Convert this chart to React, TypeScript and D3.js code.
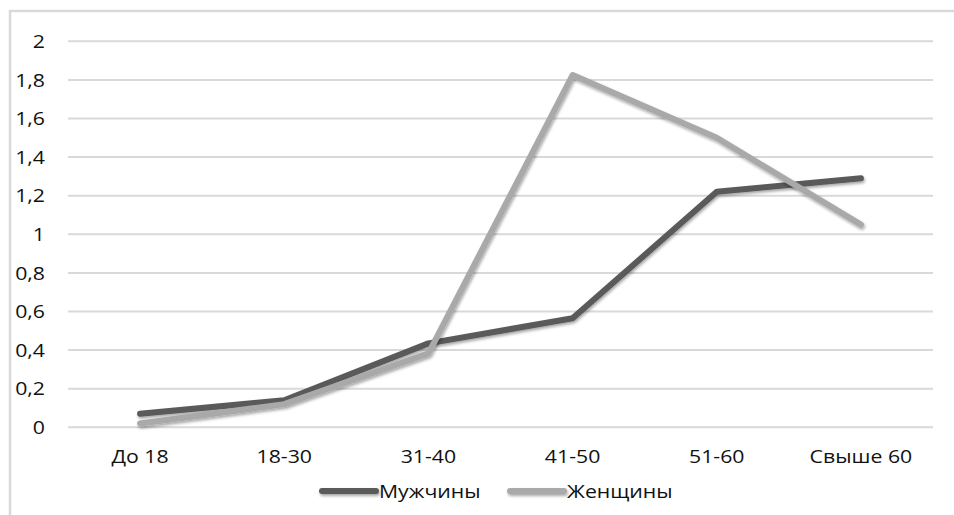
import React from "react";
import * as d3 from "d3";

const categories = ["До 18", "18-30", "31-40", "41-50", "51-60", "Свыше 60"];
const men = [0.07, 0.14, 0.435, 0.565, 1.22, 1.29];
const women = [0.02, 0.12, 0.383, 1.825, 1.5, 1.05];
const yTicks = [0, 0.2, 0.4, 0.6, 0.8, 1, 1.2, 1.4, 1.6, 1.8, 2];
const seriesNames = ["Мужчины", "Женщины"];
const seriesColors = ["#5a5a5a", "#a9a9a9"];

const W = 954;
const H = 515;
const left = 68;
const right = 933;
const top = 41.3;
const bottom = 427.3;
const FONT = "'Open Sans', 'Noto Sans', sans-serif";
const FS = 18.5;
const SX = 1.15;

function T({ x, y, anchor, children }: { x: number; y: number; anchor: string; children: React.ReactNode }) {
  return (
    <text
      transform={`translate(${x},${y}) scale(${SX},1)`}
      dy="0.36em"
      textAnchor={anchor}
      fontFamily={FONT}
      fontSize={FS}
      fill="#111"
    >
      {children}
    </text>
  );
}

export default function App() {
  const x = d3.scalePoint<string>().domain(categories).range([left, right]).padding(0.5);
  const y = d3.scaleLinear().domain([0, 2]).range([bottom, top]);
  const line = d3
    .line<number>()
    .x((_, i) => x(categories[i]) as number)
    .y((d) => y(d));
  const fmt = (v: number) => String(Math.round(v * 10) / 10).replace(".", ",");
  const series = [men, women];

  return (
    <svg width={W} height={H} style={{ position: "absolute", left: 0, top: 0, background: "#fff" }}>
      <defs>
        <filter id="sh" filterUnits="userSpaceOnUse" x={0} y={0} width={W} height={H}>
          <feDropShadow dx="1" dy="2" stdDeviation="1.8" floodColor="#000" floodOpacity="0.35" />
        </filter>
      </defs>
      <rect x={0} y={0} width={W} height={H} fill="#fff" />
      <path d={`M10,${H + 2}V11H${W + 2}`} fill="none" stroke="#d9d9d9" strokeWidth={2.5} />
      {yTicks.map((t) => (
        <g key={t}>
          <line x1={left} x2={right} y1={y(t)} y2={y(t)} stroke="#d9d9d9" strokeWidth={2} />
          <T x={45} y={y(t)} anchor="end">
            {fmt(t)}
          </T>
        </g>
      ))}
      {categories.map((c) => (
        <T key={c} x={x(c) as number} y={456} anchor="middle">
          {c}
        </T>
      ))}
      {series.map((s, i) => (
        <path
          key={i}
          d={line(s) || ""}
          fill="none"
          stroke={seriesColors[i]}
          strokeWidth={6}
          strokeLinecap="round"
          strokeLinejoin="round"
          filter="url(#sh)"
        />
      ))}
      {seriesNames.map((n, i) => {
        const lx = i === 0 ? 322 : 510;
        return (
          <g key={n}>
            <line x1={lx} x2={lx + 54} y1={491} y2={491} stroke={seriesColors[i]} strokeWidth={6} strokeLinecap="round" filter="url(#sh)" />
            <T x={lx + 57} y={491} anchor="start">
              {n}
            </T>
          </g>
        );
      })}
    </svg>
  );
}
